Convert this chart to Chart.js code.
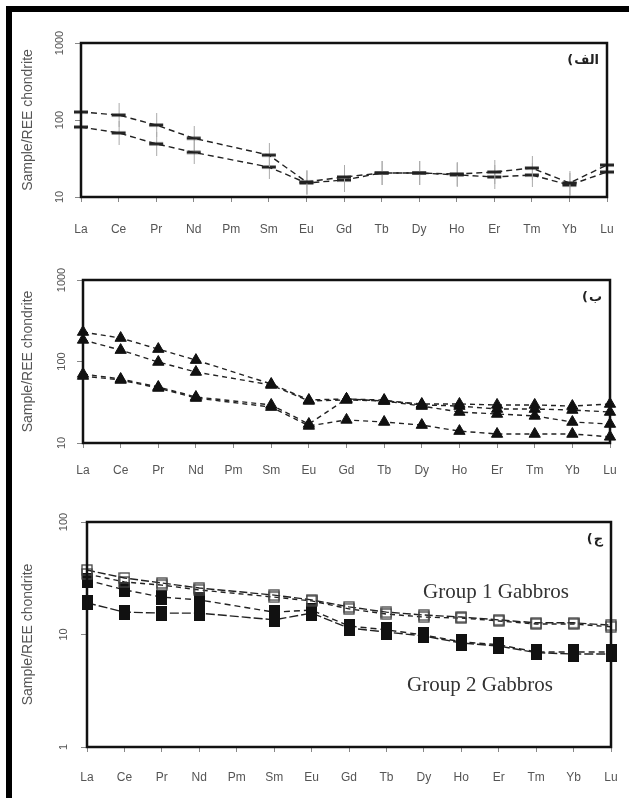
<!DOCTYPE html>
<html><head><meta charset="utf-8">
<script src="https://cdn.jsdelivr.net/npm/chart.js@4/dist/chart.umd.min.js"></script>
<style>
html,body{margin:0;padding:0;background:#fff;}
#wrap{position:relative;width:629px;height:798px;overflow:hidden;background:#fff;}
canvas{position:absolute;left:0;}
.bar{position:absolute;background:#000;}
</style></head><body>
<div id="wrap">
<canvas id="c1" width="629" height="238" style="top:14px"></canvas>
<canvas id="c2" width="629" height="248" style="top:252px"></canvas>
<canvas id="c3" width="629" height="298" style="top:500px"></canvas>
<div class="bar" style="left:6px;top:6px;width:623px;height:6px"></div>
<div class="bar" style="left:6px;top:6px;width:6px;height:792px"></div>
</div>
<script>
// ---- data ----
const elements = ['La','Ce','Pr','Nd','Pm','Sm','Eu','Gd','Tb','Dy','Ho','Er','Tm','Yb','Lu'];
const yTicks1 = [10, 100, 1000];
const yTicks2 = [10, 100, 1000];
const yTicks3 = [1, 10, 100];
const yTitle = 'Sample/REE chondrite';
const panelLabel1 = 'الف';
const panelLabel2 = 'ب';
const panelLabel3 = 'ج';
const group1Label = 'Group 1 Gabbros';
const group2Label = 'Group 2 Gabbros';

// panel 1 (الف)
const p1_a = [127, 116, 86, 58, null, 35, 15.7, 18.2, 20.5, 20.5, 19.9, 21.1, 23.8, 15.2, 26];
const p1_b = [81, 68, 49, 38, null, 24.5, 15.2, 16.6, 20.5, 20.5, 19.4, 18.2, 19.3, 14.3, 21.1];

// panel 2 (ب)
const p2_a = [230, 194, 142, 104, null, 53, 33.7, 34.7, 33.7, 29.3, 28.4, 26.1, 26.1, 25.4, 24];
const p2_b = [184, 138, 98.6, 74.3, null, 51.5, 32.8, 33.7, 32.8, 30.1, 30.1, 29.3, 29.3, 28.4, 30.1];
const p2_c = [70.3, 61, 48.7, 36.7, null, 29.3, 17.1, 34.7, 32.8, 28.4, 24, 22.7, 21.5, 18.1, 17.1];
const p2_d = [66.4, 59.3, 47.3, 35.6, null, 27.6, 16.2, 19.2, 18.1, 16.6, 14, 12.9, 12.9, 12.9, 11.9];

// panel 3 (ج)
const g1_a = [37.4, 31.8, 28.7, 25.9, null, 22.4, 20.3, 17.6, 15.8, 14.9, 14.3, 13.5, 12.7, 12.7, 12.1];
const g1_b = [34.5, 29.3, 27.5, 24.9, null, 21.5, 19.9, 16.9, 15.2, 14.3, 14.0, 13.2, 12.4, 12.4, 11.7];
const g2_a = [30.5, 24.9, 21.5, 20.3, null, 15.8, 16.5, 11.9, 11.0, 9.9, 8.6, 8.1, 7.0, 7.0, 7.0];
const g2_b = [19.1, 15.8, 15.5, 15.5, null, 13.5, 15.5, 11.4, 10.5, 9.7, 8.4, 7.9, 6.9, 6.7, 6.7];

// ---- marker images ----
function plusImg(){
  const c=document.createElement('canvas'); c.width=16; c.height=24;
  const g=c.getContext('2d');
  g.strokeStyle='#aaa'; g.lineWidth=1;
  g.beginPath(); g.moveTo(8.5,0); g.lineTo(8.5,24); g.stroke();
  g.fillStyle='#222'; g.fillRect(1,10.5,14,3);
  return c;
}
function filledSq(){
  const c=document.createElement('canvas'); c.width=11; c.height=15;
  const g=c.getContext('2d'); g.fillStyle='#111'; g.fillRect(0,0,11,15); return c;
}
function openSq(){
  const c=document.createElement('canvas'); c.width=12; c.height=12;
  const g=c.getContext('2d'); g.strokeStyle='#444'; g.lineWidth=1.3; g.strokeRect(1,1,10,10); return c;
}
const PLUS = plusImg(), FSQ = filledSq(), OSQ = openSq();

const FONT = "'Liberation Sans', Arial, sans-serif";

function decorPlugin(opts){
  return {
    id:'decor',
    afterDraw(chart){
      const ctx=chart.ctx, a=chart.chartArea, ys=chart.scales.y;
      ctx.save();
      ctx.strokeStyle='#111'; ctx.lineWidth=2.5;
      ctx.strokeRect(a.left, a.top, a.right-a.left, a.bottom-a.top);
      ctx.fillStyle='#555'; ctx.font='11px '+FONT;
      ctx.textAlign='center'; ctx.textBaseline='middle';
      opts.ticks.forEach(v=>{
        const y=ys.getPixelForValue(v);
        ctx.save(); ctx.translate(opts.tickX, y); ctx.rotate(-Math.PI/2);
        ctx.fillText(String(v),0,0); ctx.restore();
      });
      // panel label: "(" on the left, Arabic word to its right
      ctx.fillStyle='#222'; ctx.font="bold 13px 'DejaVu Sans', sans-serif";
      ctx.direction='ltr';
      ctx.textAlign='right';
      const xr=a.right-8, yy=a.top+18;
      ctx.fillText(opts.label, xr, yy);
      const w=ctx.measureText(opts.label).width;
      ctx.fillText('(', xr-w-1, yy);
      if (opts.extra) opts.extra(ctx, a);
      ctx.restore();
    }
  };
}

function makeChart(id, datasets, o){
  return new Chart(document.getElementById(id), {
    type:'line',
    data:{labels:elements, datasets},
    options:{
      responsive:false, animation:false,
      layout:{padding:{left:0, right:o.padRight, top:o.padTop, bottom:o.padBottom}},
      plugins:{legend:{display:false}, tooltip:{enabled:false}},
      scales:{
        x:{
          type:'category', offset:false,
          afterFit:s=>{ s.height=40; s.paddingLeft=0; s.paddingRight=0; },
          ticks:{color:'#555', font:{family:FONT, size:12}, padding:o.xPad, autoSkip:false, maxRotation:0, minRotation:0},
          grid:{drawOnChartArea:false, drawTicks:true, tickLength:5, color:'#888'},
          border:{display:false}
        },
        y:{
          type:'logarithmic', min:o.min, max:o.max,
          afterBuildTicks:s=>{ s.ticks=o.ticks.map(v=>({value:v, major:true})); },
          afterFit:s=>{ s.width=o.left; s.paddingTop=0; s.paddingBottom=0; },
          ticks:{display:false},
          grid:{drawOnChartArea:false, drawTicks:true, tickLength:6, color:'#888'},
          border:{display:false},
          title:{display:true, text:yTitle, color:'#555', font:{family:FONT, size:14}, padding:{top:o.titleOff, bottom:0}}
        }
      }
    },
    plugins:[decorPlugin({ticks:o.ticks, tickX:o.tickX, label:o.label, extra:o.extra})]
  });
}

function ds(data, style){
  return Object.assign({data, spanGaps:true, fill:false, tension:0,
    borderColor:'#222', borderWidth:1.4, borderDash:[6,4]}, style);
}

makeChart('c1', [
  ds(p1_a, {pointStyle:PLUS, pointRadius:8}),
  ds(p1_b, {pointStyle:PLUS, pointRadius:8})
], {min:10, max:1000, ticks:yTicks1, left:81, padRight:22, padTop:29, padBottom:15, xPad:20, tickX:60, titleOff:20, label:panelLabel1});

const tri = {pointStyle:'triangle', pointRadius:6.5, pointBackgroundColor:'#111', pointBorderColor:'#111', pointBorderWidth:1, borderDash:[5,4]};
makeChart('c2', [
  ds(p2_a, tri), ds(p2_b, tri), ds(p2_c, tri), ds(p2_d, tri)
], {min:10, max:1000, ticks:yTicks2, left:83, padRight:19, padTop:28, padBottom:17, xPad:15, tickX:62, titleOff:20, label:panelLabel2});

makeChart('c3', [
  ds(g1_a, {pointStyle:OSQ, pointRadius:7, borderDash:[8,3]}),
  ds(g1_b, {pointStyle:OSQ, pointRadius:7, borderDash:[5,4]}),
  ds(g2_a, {pointStyle:FSQ, pointRadius:7, borderDash:[6,4]}),
  ds(g2_b, {pointStyle:FSQ, pointRadius:7, borderDash:[9,3]})
], {min:1, max:100, ticks:yTicks3, left:87, padRight:18, padTop:22, padBottom:11, xPad:18, tickX:64, titleOff:20, label:panelLabel3,
  extra:(ctx,a)=>{
    ctx.fillStyle='#333'; ctx.font="21px 'Liberation Serif', 'Times New Roman', serif";
    ctx.textAlign='center'; ctx.textBaseline='middle';
    ctx.fillText(group1Label, 496, 92);
    ctx.fillText(group2Label, 480, 185);
  }});
</script>
</body></html>
